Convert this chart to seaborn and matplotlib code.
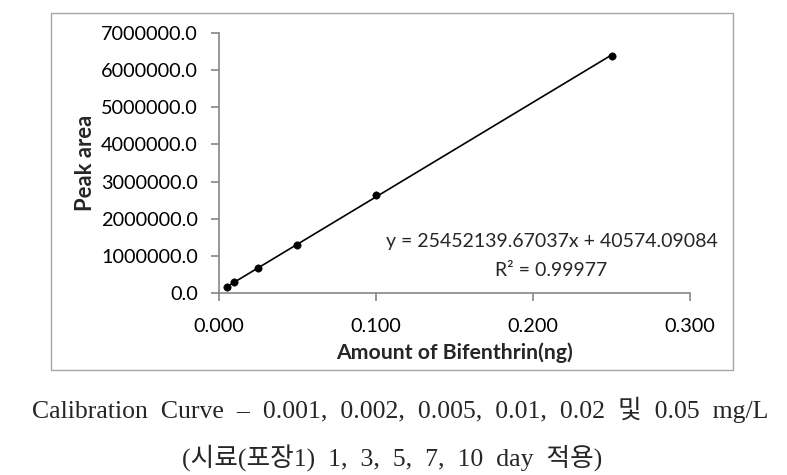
import matplotlib
matplotlib.use("Agg")
import matplotlib.pyplot as plt
from matplotlib.patches import Rectangle
import seaborn as sns
import pandas as pd

# calibration points
amount_ng = [0.005, 0.010, 0.025, 0.050, 0.100, 0.250]
peak_area = [160000, 290000, 670000, 1300000, 2650000, 6380000]

# trendline reported on the chart
slope = 25452139.67037
intercept = 40574.09084
r_squared = 0.99977

x_ticks = [0.0, 0.1, 0.2, 0.3]
y_ticks = [0, 1000000, 2000000, 3000000, 4000000, 5000000, 6000000, 7000000]

caption_1 = "Calibration  Curve  –  0.001,  0.002,  0.005,  0.01,  0.02  및  0.05  mg/L"
caption_2 = "(시료(포장1)  1,  3,  5,  7,  10  day  적용)"

sns.set_style("white")
plt.rcParams['font.family'] = ['Lato', 'DejaVu Sans']

df = pd.DataFrame({'amount': amount_ng, 'area': peak_area})
fit = pd.DataFrame({'amount': [min(amount_ng), max(amount_ng)]})
fit['area'] = slope * fit['amount'] + intercept

fig = plt.figure(figsize=(7.87, 4.75), dpi=100)
ax = fig.add_axes([0.278, 0.383, 0.599, 0.548])

sns.lineplot(data=fit, x='amount', y='area', color='black', linewidth=1.2, ax=ax)
sns.scatterplot(data=df, x='amount', y='area', color='black', s=28,
                edgecolor='black', zorder=3, ax=ax)

ax.set_xlim(0, 0.3)
ax.set_ylim(0, 7000000)
ax.set_xticks(x_ticks)
ax.set_yticks(y_ticks)
ax.set_xticklabels([f"{v:.3f}" for v in x_ticks])
ax.set_yticklabels([f"{v:.1f}" for v in y_ticks])
ax.tick_params(axis='both', labelsize=14.3, colors='#868686', labelcolor='black',
               length=6, width=1.2, direction='out', bottom=True, left=True)
ax.tick_params(axis='x', pad=12)
ax.tick_params(axis='y', pad=9)
for side in ['top', 'right']:
    ax.spines[side].set_visible(False)
for side in ['left', 'bottom']:
    ax.spines[side].set_color('#868686')
    ax.spines[side].set_linewidth(1.2)

ax.set_xlabel("Amount of Bifenthrin(ng)", fontsize=15.3, fontweight='bold', labelpad=5)
ax.set_ylabel("Peak area", fontsize=15.8, fontweight='bold', labelpad=4)

ax.text(0.3178, 1400000, f"y = {slope:.5f}x + {intercept:.5f}", fontsize=14,
        ha='right', va='center')
ax.text(0.2115, 620000, f"R² = {r_squared}", fontsize=14, ha='center', va='center')

fig.patches.append(Rectangle((51 / 787, 1 - 370 / 475), 682 / 787, 357 / 475,
                             transform=fig.transFigure, fill=False,
                             edgecolor='#a6a6a6', linewidth=1.0))

fig.text(0.509, 1 - 410 / 475, caption_1, fontsize=18.5, ha='center', va='center',
         family=['Liberation Serif', 'Noto Sans CJK KR'])
fig.text(0.498, 1 - 458 / 475, caption_2, fontsize=18.5, ha='center', va='center',
         family=['Liberation Serif', 'Noto Sans CJK KR'])

fig.savefig("out.png", dpi=100)
